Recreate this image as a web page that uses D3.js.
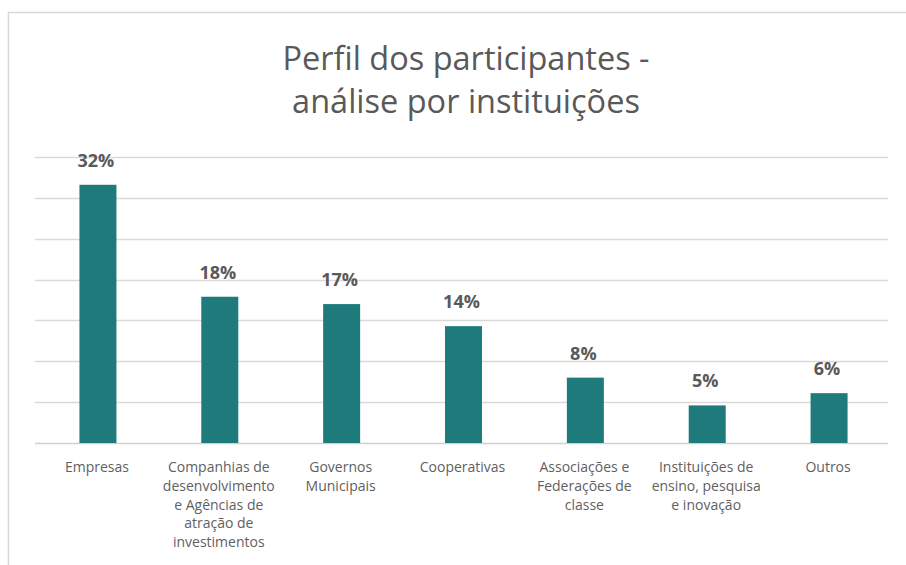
<!DOCTYPE html>
<html>
<head>
<meta charset="utf-8">
<script src="https://cdn.jsdelivr.net/npm/d3@7"></script>
<style>
  html, body { margin: 0; padding: 0; background: #ffffff; }
  svg { display: block; }
</style>
</head>
<body>
<svg id="chart" width="906" height="565"></svg>
<script>
const titleLines = ["Perfil dos participantes -", "análise por instituições"];
const categories = ["Empresas", "Companhias", "Governos", "Cooperativas", "Associações", "Instituições", "Outros"];
const categoryLabels = [
  ["Empresas"],
  ["Companhias de", "desenvolvimento", "e Agências de", "atração de", "investimentos"],
  ["Governos", "Municipais"],
  ["Cooperativas"],
  ["Associações e", "Federações de", "classe"],
  ["Instituições de", "ensino, pesquisa", "e inovação"],
  ["Outros"]
];
const values = [31.6, 17.9, 17.0, 14.3, 8.0, 4.6, 6.1];
const valueLabels = ["32%", "18%", "17%", "14%", "8%", "5%", "6%"];
const gridTicks = [0, 5, 10, 15, 20, 25, 30, 35];

const svg = d3.select("#chart");
const font = "'Open Sans', sans-serif";
const textColor = "#595959";
const barColor = "#1f7a7c";

// frame
svg.append("path")
  .attr("d", "M8.5,565 V12.5 H906")
  .attr("fill", "none")
  .attr("stroke", "#d9d9d9")
  .attr("stroke-width", 1.5);

const x = d3.scaleBand().domain(categories).range([37, 890]).padding(0);
const y = d3.scaleLinear().domain([0, 35]).range([443, 157]);

// gridlines
svg.append("g").selectAll("line")
  .data(gridTicks)
  .join("line")
  .attr("x1", 35).attr("x2", 888)
  .attr("y1", d => Math.round(y(d)) + 0.5)
  .attr("y2", d => Math.round(y(d)) + 0.5)
  .attr("stroke", d => d === 0 ? "#d0d0d0" : "#d9d9d9")
  .attr("stroke-width", 1.3);

// title
svg.append("text")
  .attr("text-anchor", "middle")
  .attr("font-family", font).attr("font-size", 32.5)
  .attr("fill", textColor)
  .selectAll("tspan")
  .data(titleLines)
  .join("tspan")
  .attr("x", 466)
  .attr("y", (d, i) => 70 + i * 43)
  .text(d => d);

const barW = 37;
const data = categories.map((c, i) => ({ c, v: values[i], label: valueLabels[i], lines: categoryLabels[i] }));

// bars
svg.append("g").selectAll("rect")
  .data(data)
  .join("rect")
  .attr("x", d => x(d.c) + x.bandwidth() / 2 - barW / 2)
  .attr("width", barW)
  .attr("y", d => y(d.v))
  .attr("height", d => y(0) - y(d.v))
  .attr("fill", barColor);

// value labels
svg.append("g").selectAll("text")
  .data(data)
  .join("text")
  .attr("x", d => x(d.c) + x.bandwidth() / 2 - 2)
  .attr("y", d => y(d.v) - 18)
  .attr("text-anchor", "middle")
  .attr("font-family", font)
  .attr("font-weight", "bold")
  .attr("font-size", 18)
  .attr("fill", textColor)
  .text(d => d.label);

// category labels
const catG = svg.append("g").selectAll("text")
  .data(data)
  .join("text")
  .attr("text-anchor", "middle")
  .attr("font-family", font)
  .attr("font-size", 14)
  .attr("fill", "#5f5f5f");
catG.selectAll("tspan")
  .data(d => d.lines.map(l => ({ l, cx: x(d.c) + x.bandwidth() / 2 - 1 })))
  .join("tspan")
  .attr("x", d => d.cx)
  .attr("y", (d, i) => 472 + i * 18.8)
  .text(d => d.l);
</script>
</body>
</html>
